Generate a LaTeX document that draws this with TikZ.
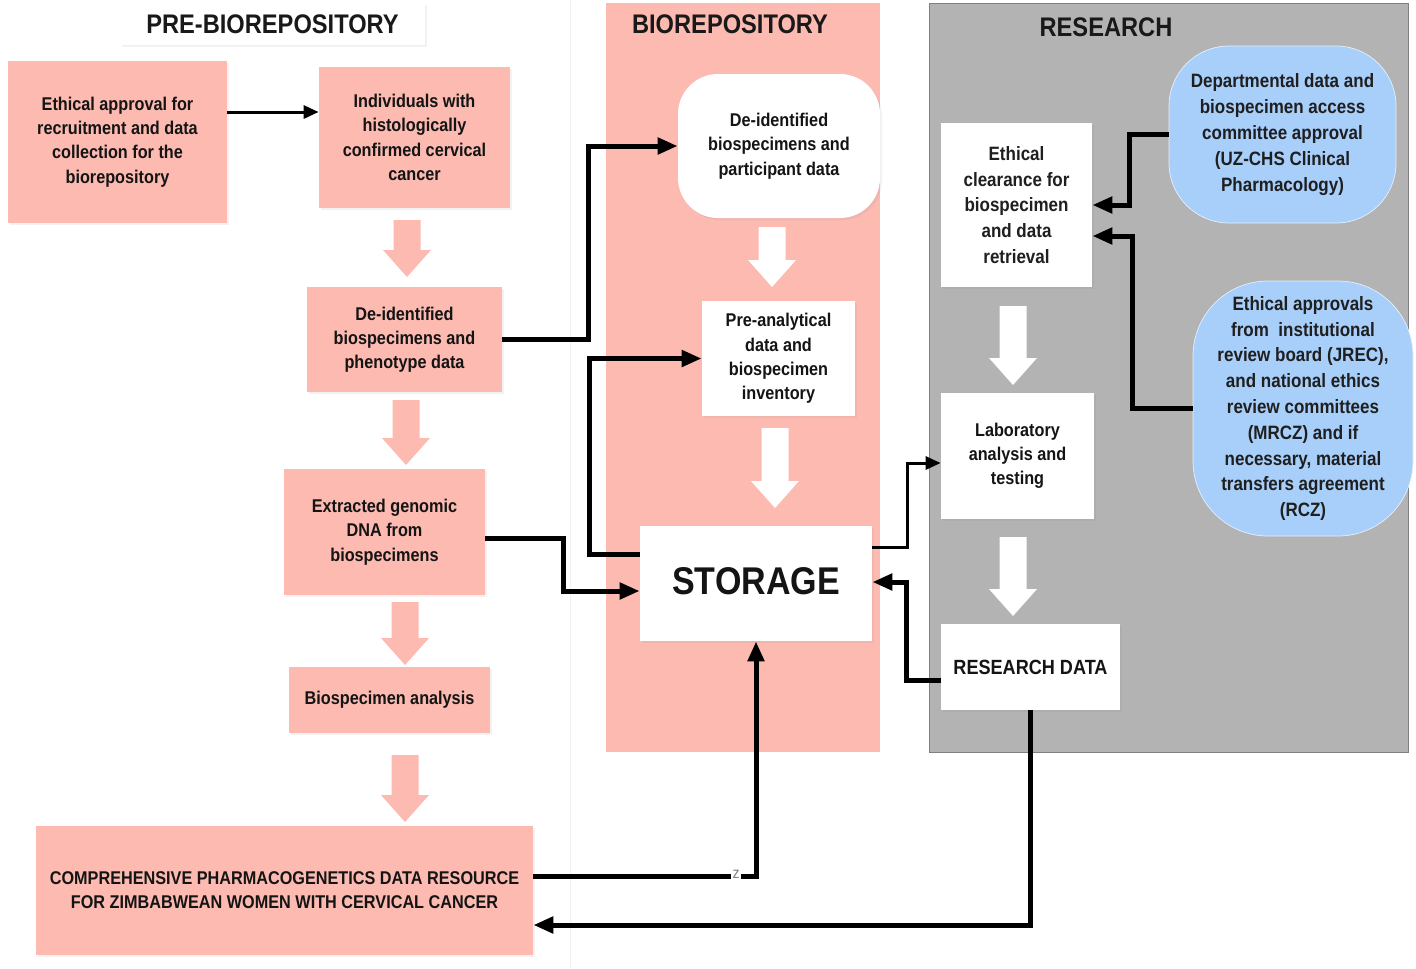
\documentclass[tikz,border=0pt]{standalone}
\usepackage{fontspec}
\setmainfont{Liberation Sans}[FakeStretch=0.88]
\usetikzlibrary{arrows.meta,calc,shadows,positioning}

\definecolor{pinkfill}{RGB}{252,186,177}
\definecolor{greyfill}{RGB}{179,179,179}
\definecolor{bluefill}{RGB}{168,206,250}

\tikzset{
  sz/.style 2 args={minimum width=#1*0.02cm, minimum height=#2*0.02cm},
  txt/.style={font=\bfseries\fontsize{10.5}{13.8}\selectfont, align=center, text=black!92},
  bigtxt/.style={font=\bfseries\fontsize{11}{14.7}\selectfont, align=center, text=black!88},
  softshadow/.style={drop shadow={shadow xshift=1.2pt, shadow yshift=-1.2pt, opacity=.1}},
  pinkbox/.style={txt, rectangle, fill=pinkfill, inner sep=0pt, softshadow},
  whitebox/.style={txt, rectangle, fill=white, inner sep=0pt, softshadow},
  bluebox/.style={bigtxt, rectangle, rounded corners=1.2cm, fill=bluefill, draw=white!70!bluefill, inner sep=0pt},
  coltitle/.style={font=\bfseries\fontsize{15.3}{18}\selectfont, text=black!90},
  conn/.style={line width=2.85pt, -{Triangle[length=0.4cm,width=0.32cm]}},
  thinconn/.style={line width=1.7pt, -{Triangle[length=0.3cm,width=0.26cm]}},
  pics/downarrow/.style={code={
    \fill[pic actions] (-13.5,0) -- (13.5,0) -- (13.5,#1-27) -- (24,#1-27)
      -- (0,#1) -- (-24,#1-27) -- (-13.5,#1-27) -- cycle;}}
}

\begin{document}
\begin{tikzpicture}[x=0.02cm,y=-0.02cm]
\useasboundingbox (0,0) rectangle (1416,968);
\draw[black!5] (570,0) -- (570,968);
\fill[pinkfill] (606,3) rectangle (880,752);
\filldraw[fill=greyfill,draw=black!50] (929,3) rectangle (1408,752);

\node[whitebox, coltitle, sz={305}{42}] (pretitle) at (272.5,24) {PRE-BIOREPOSITORY};
\node[coltitle] (biotitle) at (730,24) {BIOREPOSITORY};
\node[coltitle] (restitle) at (1106,27) {RESEARCH};

\node[pinkbox, sz={219}{162}] (ethappr) at (117.5,142) {Ethical approval for\\recruitment and data\\collection for the\\biorepository};
\node[pinkbox, sz={191}{141}] (indiv) at (414.5,137.5) {Individuals with\\histologically\\confirmed cervical\\cancer};
\node[pinkbox, sz={195}{105}] (phenodata) at (404.5,339.5) {De-identified\\biospecimens and\\phenotype data};
\node[pinkbox, sz={201}{126}] (dna) at (384.5,532) {Extracted genomic\\DNA from\\biospecimens};
\node[pinkbox, sz={201}{66}] (analysis) at (389.5,700) {Biospecimen analysis};
\node[pinkbox, sz={497}{129}] (resource) at (284.5,890.5) {COMPREHENSIVE PHARMACOGENETICS DATA RESOURCE\\FOR ZIMBABWEAN WOMEN WITH CERVICAL CANCER};

\node[whitebox, rounded corners=0.8cm, sz={202}{144}] (partdata) at (779,146) {De-identified\\biospecimens and\\participant data};
\node[whitebox, sz={153}{115}] (preanal) at (778.5,358.5) {Pre-analytical\\data and\\biospecimen\\inventory};
\node[whitebox, sz={232}{115}, font=\bfseries\fontsize{22}{24}\selectfont] (storage) at (756,583.5) {\raisebox{0.1cm}{STORAGE}};

\node[whitebox, bigtxt, sz={151}{164}] (ethclear) at (1016.5,205) {Ethical\\clearance for\\biospecimen\\and data\\retrieval};
\node[whitebox, sz={153}{126}] (labtest) at (1017.5,456) {Laboratory\\analysis and\\testing};
\node[whitebox, sz={179}{86}, font=\bfseries\fontsize{11.7}{14}\selectfont] (resdata) at (1030.5,667) {RESEARCH DATA};
\node[bluebox, sz={227}{177}] (deptappr) at (1282.5,134.5) {Departmental data and\\biospecimen access\\committee approval\\(UZ-CHS Clinical\\Pharmacology)};
\node[bluebox, sz={220}{255}, rounded corners=1.5cm] (irbappr) at (1303,408.5) {Ethical approvals\\from~ institutional\\review board (JREC),\\and national ethics\\review committees\\(MRCZ) and if\\necessary, material\\transfers agreement\\(RCZ)};

\pic[fill=pinkfill] at (407,220) {downarrow=57};
\pic[fill=pinkfill] at (406,400) {downarrow=65};
\pic[fill=pinkfill] at (405,602) {downarrow=63};
\pic[fill=pinkfill] at (405,755) {downarrow=67};
\pic[fill=white] at (772,227) {downarrow=60};
\pic[fill=white] at (775,428) {downarrow=80};
\pic[fill=white] at (1013,306) {downarrow=79};
\pic[fill=white] at (1013,537) {downarrow=79};

\draw[thinconn] ($(ethappr.east)+(0,-30)$) -- ($(indiv.west)+(0,-25.5)$);
\draw[conn] (phenodata.east) -- ++(86,0) |- (partdata.west);
\draw[conn] ($(storage.west)+(0,-29.5)$) -- ++(-50,0) |- (preanal.west);
\draw[conn] ($(dna.east)+(0,6)$) -- ++(78,0) |- ($(storage.west)+(0,7.5)$);
\draw[conn] ($(resource.east)+(0,-14.5)$) -| (storage.south);
\draw[conn] (resdata.south) |- ($(resource.east)+(0,34.5)$);
\draw[thinconn] ($(storage.east)+(0,-36.5)$) -- ++(35,0) |- ($(labtest.west)+(0,7)$);
\draw[conn] ($(resdata.west)+(0,13)$) -- ++(-34,0) |- ($(storage.east)+(0,-1.5)$);
\draw[conn] (deptappr.west) -- ++(-39,0) |- (ethclear.east);
\draw[conn] (irbappr.west) -- ++(-60,0) |- ($(ethclear.east)+(0,31)$);
\node[font=\fontsize{9}{9}\selectfont, text=black!50, fill=white, inner sep=1pt] (zmark) at (736,874) {z};
\end{tikzpicture}
\end{document}
